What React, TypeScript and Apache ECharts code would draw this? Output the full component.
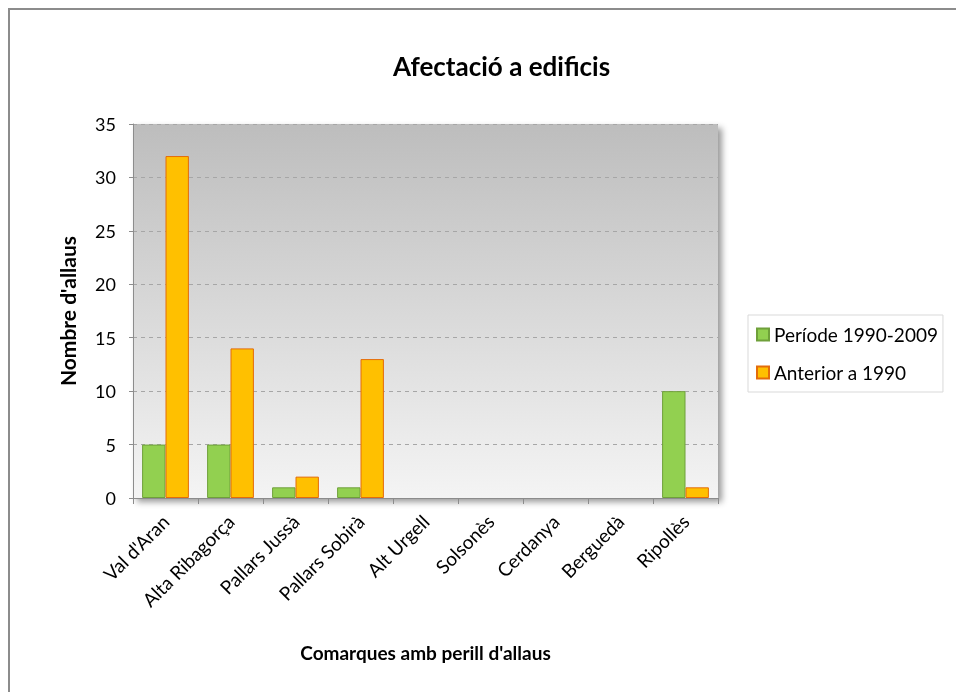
import React, { useEffect, useRef } from "react";
import * as echarts from "echarts";

const categories = [
  "Val d'Aran",
  "Alta Ribagorça",
  "Pallars Jussà",
  "Pallars Sobirà",
  "Alt Urgell",
  "Solsonès",
  "Cerdanya",
  "Berguedà",
  "Ripollès",
];
const periode19902009 = [5, 5, 1, 1, 0, 0, 0, 0, 10];
const anterior1990 = [32, 14, 2, 13, 0, 0, 0, 0, 1];
const seriesNames = ["Període 1990-2009", "Anterior a 1990"];
const yMin = 0;
const yMax = 35;
const yInterval = 5;

const FONT = "Lato, 'Open Sans', sans-serif";

// zero-valued bars are not drawn in the reference
const hideZero = (arr: number[]) => arr.map((v) => (v === 0 ? null : v));

export default function App() {
  const ref = useRef<HTMLDivElement>(null);
  useEffect(() => {
    if (!ref.current) return;
    const chart = echarts.init(ref.current, undefined, { renderer: "svg" });
    chart.setOption({
      animation: false,
      textStyle: { fontFamily: FONT },
      title: {
        text: "Afectació a edificis",
        left: 393,
        top: 53,
        padding: 0,
        textStyle: { fontSize: 26, fontWeight: "bold", color: "#000", fontFamily: FONT },
      },
      graphic: [
        { type: "line", shape: { x1: 8, y1: 9, x2: 956, y2: 9 }, style: { stroke: "#8c8c8c", lineWidth: 2 } },
        { type: "line", shape: { x1: 9, y1: 8, x2: 9, y2: 692 }, style: { stroke: "#8c8c8c", lineWidth: 2 } },
      ],
      legend: {
        orient: "vertical",
        left: 748,
        top: 315,
        padding: [10, 5, 10, 8],
        itemWidth: 12,
        itemHeight: 12,
        itemGap: 19,
        borderColor: "#d9d9d9",
        borderWidth: 1,
        icon: "rect",
        textStyle: { fontSize: 19, color: "#000", fontFamily: FONT },
        data: seriesNames,
      },
      grid: {
        left: 133,
        top: 124,
        width: 585,
        height: 374,
        show: true,
        borderWidth: 0,
        backgroundColor: new echarts.graphic.LinearGradient(0, 0, 0, 1, [
          { offset: 0, color: "#bdbdbd" },
          { offset: 1, color: "#f4f4f4" },
        ]),
        shadowColor: "rgba(0,0,0,0.4)",
        shadowBlur: 6,
        shadowOffsetX: 4,
        shadowOffsetY: 4,
      },
      xAxis: {
        type: "category",
        data: categories,
        name: "Comarques amb perill d'allaus",
        nameLocation: "middle",
        nameGap: 145,
        nameTextStyle: { fontSize: 19, fontWeight: "bold", color: "#000", fontFamily: FONT },
        axisLine: { show: true, lineStyle: { color: "#8c8c8c", width: 1 } },
        axisTick: { show: true, length: 6, alignWithLabel: false, lineStyle: { color: "#8c8c8c" } },
        axisLabel: { rotate: 45, fontSize: 19, color: "#000", margin: 20, interval: 0, fontFamily: FONT },
      },
      yAxis: {
        type: "value",
        min: yMin,
        max: yMax,
        interval: yInterval,
        name: "Nombre d'allaus",
        nameLocation: "middle",
        nameGap: 55,
        nameTextStyle: { fontSize: 21, fontWeight: "bold", color: "#000", fontFamily: FONT },
        axisLine: { show: true, lineStyle: { color: "#8c8c8c", width: 1 } },
        axisTick: { show: true, length: 4, lineStyle: { color: "#8c8c8c" } },
        axisLabel: { fontSize: 18, color: "#000", margin: 17, fontFamily: FONT },
        splitLine: { show: true, lineStyle: { color: "#a6a6a6", type: [4, 4] } },
      },
      series: [
        {
          name: seriesNames[0],
          type: "bar",
          data: hideZero(periode19902009),
          barGap: "0%",
          barCategoryGap: "28%",
          itemStyle: { color: "#92d050", borderColor: "#6fa03a", borderWidth: 1 },
        },
        {
          name: seriesNames[1],
          type: "bar",
          data: hideZero(anterior1990),
          barGap: "0%",
          barCategoryGap: "28%",
          itemStyle: { color: "#ffc000", borderColor: "#e46c0a", borderWidth: 1 },
        },
      ],
    });
    return () => chart.dispose();
  }, []);
  return (
    <div
      ref={ref}
      style={{ position: "fixed", left: 0, top: 0, width: 956, height: 692 }}
    />
  );
}
